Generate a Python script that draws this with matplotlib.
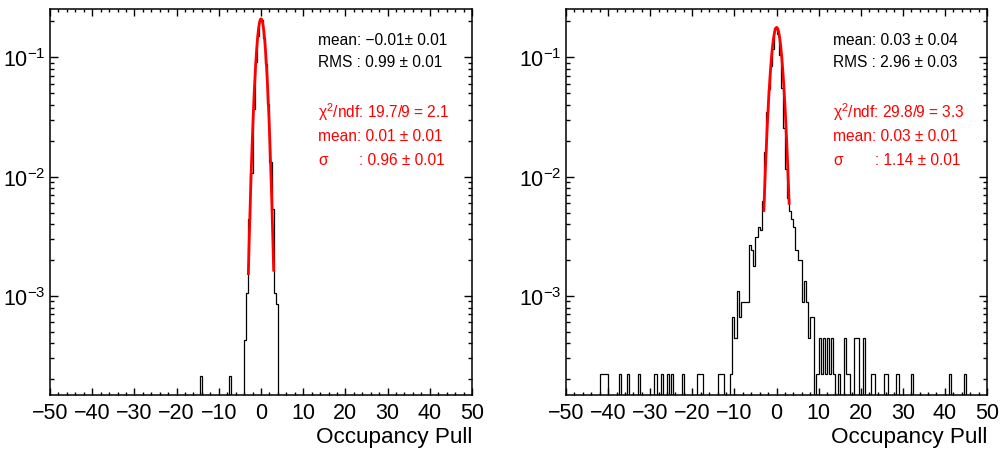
# Occupancy pull distributions, two panels, ROOT-like style

import numpy as np
import matplotlib
matplotlib.use('Agg')
import matplotlib.pyplot as plt
from matplotlib.ticker import MultipleLocator, LogLocator, LogFormatterSciNotation, NullFormatter

plt.rcParams['font.family'] = ['Liberation Sans', 'DejaVu Sans']
plt.rcParams['mathtext.fontset'] = 'custom'
plt.rcParams['mathtext.rm'] = 'Liberation Sans'
plt.rcParams['mathtext.it'] = 'Liberation Sans:italic'

# histogram binning
bin_width = 0.5
x_lo, x_hi = -50, 50

# left panel: low edge of non-empty bins and their counts
left_bins = [-14.5, -7.5, -4.0, -3.5, -3.0, -2.5, -2.0, -1.5, -1.0, -0.5,
             0.0, 0.5, 1.0, 1.5, 2.0, 2.5, 3.0, 3.5]
left_counts = [1, 1, 2, 5, 21, 51, 173, 427, 713, 975,
               960, 680, 415, 190, 63, 25, 5, 4]
left_entries = 4711

# right panel
right_bins = [-42.0, -41.5, -41.0, -40.5, -37.5, -35.5, -33.0, -29.0, -27.5, -26.0,
              -25.0, -22.5, -19.0, -18.5, -18.0, -14.0, -13.5, -13.0,
              -11.0, -10.5, -10.0, -9.5, -9.0, -8.5, -8.0, -7.5, -7.0, -6.5,
              -6.0, -5.5, -5.0, -4.5, -4.0, -3.5,
              -3.0, -2.5, -2.0, -1.5, -1.0, -0.5, 0.0, 0.5, 1.0, 1.5, 2.0, 2.5,
              3.0, 3.5, 4.0, 4.5, 5.0, 5.5, 6.0, 6.5, 7.0, 7.5, 8.0, 8.5,
              9.5, 10.0, 10.5, 11.0, 11.5, 12.0, 12.5, 13.0, 13.5, 14.5,
              16.0, 16.5, 17.0, 18.5, 19.0, 20.5, 22.5, 23.0, 25.5, 26.0,
              28.5, 32.0, 41.0, 44.5]
right_counts = [1, 1, 1, 1, 1, 1, 1, 1, 1, 1,
                1, 1, 1, 1, 1, 1, 1, 1,
                1, 3, 2, 5, 3, 4, 4, 4, 4, 12,
                11, 8, 14, 17, 16, 28,
                73, 156, 244, 383, 528, 790, 700, 470, 250, 115, 52, 30,
                23, 20, 17, 11, 9, 9, 4, 6, 4, 2, 3, 3,
                1, 2, 1, 2, 1, 2, 1, 2, 1, 1,
                2, 1, 1, 2, 2, 2, 1, 1, 1, 1,
                1, 1, 1, 1]
right_entries = 4500

# gaussian fits (amplitude, mean, sigma) and fit range
left_fit = [0.21, 0.01, 0.96]
right_fit = [0.178, 0.03, 1.14]
fit_range = [-3.0, 3.0]

left_stats = ["mean: \u22120.01\u00b1 0.01", "RMS : 0.99 \u00b1 0.01"]
left_fit_text = ["\u03c7$^{2}$/ndf: 19.7/9 = 2.1", "mean: 0.01 \u00b1 0.01", ": 0.96 \u00b1 0.01"]
right_stats = ["mean: 0.03 \u00b1 0.04", "RMS : 2.96 \u00b1 0.03"]
right_fit_text = ["\u03c7$^{2}$/ndf: 29.8/9 = 3.3", "mean: 0.03 \u00b1 0.01", ": 1.14 \u00b1 0.01"]


def fill_hist(bins, counts, entries):
    edges = np.arange(x_lo, x_hi + bin_width / 2, bin_width)
    vals = np.full(len(edges) - 1, 1e-9)
    idx = np.round((np.array(bins) - x_lo) / bin_width).astype(int)
    vals[idx] = np.array(counts) / entries
    return edges, vals


def draw_panel(ax, bins, counts, entries, fit, stats, fit_text):
    edges, vals = fill_hist(bins, counts, entries)
    ax.stairs(vals, edges, baseline=None, color='black', linewidth=0.9)

    xf = np.linspace(fit_range[0], fit_range[1], 300)
    yf = fit[0] * np.exp(-0.5 * ((xf - fit[1]) / fit[2]) ** 2)
    ax.plot(xf, yf, color='red', linewidth=2.0)

    ax.set_yscale('log')
    ax.set_xlim(x_lo, x_hi)
    ax.set_ylim(1.48e-4, 0.254)

    ax.xaxis.set_major_locator(MultipleLocator(10))
    ax.xaxis.set_minor_locator(MultipleLocator(2))
    ax.yaxis.set_major_locator(LogLocator(base=10, numticks=10))
    ax.yaxis.set_minor_locator(LogLocator(base=10, subs=np.arange(2, 10), numticks=10))
    ax.yaxis.set_major_formatter(LogFormatterSciNotation())
    ax.yaxis.set_minor_formatter(NullFormatter())

    ax.tick_params(which='both', direction='in', top=True, right=True, width=1.0,
                   labelsize=15.5)
    ax.tick_params(axis='x', which='major', length=5, pad=5)
    ax.tick_params(axis='x', which='minor', length=2.5)
    ax.tick_params(axis='y', which='major', length=6, pad=3)
    ax.tick_params(axis='y', which='minor', length=3)
    for s in ax.spines.values():
        s.set_linewidth(1.1)

    ax.set_xlabel('Occupancy Pull', fontsize=16.2, loc='right', labelpad=2)

    fs = 11.2
    ax.text(0.635, 0.922, stats[0], transform=ax.transAxes, fontsize=fs, va='center')
    ax.text(0.635, 0.863, stats[1], transform=ax.transAxes, fontsize=fs, va='center')
    ax.text(0.635, 0.736, fit_text[0], transform=ax.transAxes, fontsize=fs, va='center', color='red')
    ax.text(0.635, 0.671, fit_text[1], transform=ax.transAxes, fontsize=fs, va='center', color='red')
    ax.text(0.635, 0.611, '\u03c3', transform=ax.transAxes, fontsize=fs, va='center', color='red')
    ax.text(0.733, 0.611, fit_text[2], transform=ax.transAxes, fontsize=fs, va='center', color='red')


fig = plt.figure(figsize=(10.02, 4.52), dpi=100)
ax1 = fig.add_axes([50 / 1002, 56 / 452, 422 / 1002, 386 / 452])
ax2 = fig.add_axes([566 / 1002, 56 / 452, 421 / 1002, 386 / 452])

draw_panel(ax1, left_bins, left_counts, left_entries, left_fit, left_stats, left_fit_text)
draw_panel(ax2, right_bins, right_counts, right_entries, right_fit, right_stats, right_fit_text)

fig.savefig('out.png', dpi=100)
